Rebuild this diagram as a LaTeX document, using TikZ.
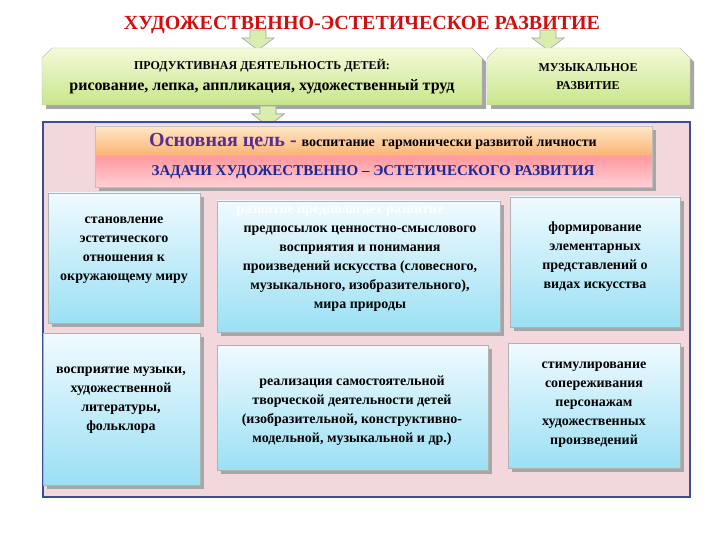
\documentclass[tikz,border=0pt]{standalone}
\usepackage{fontspec}
\setmainfont{Liberation Serif}
\usetikzlibrary{shadows}
\definecolor{tred}{HTML}{D01010}
\definecolor{gtop}{HTML}{F4FAD8}
\definecolor{gbot}{HTML}{C8E68C}
\definecolor{ctop}{HTML}{F0FAFF}
\definecolor{cbot}{HTML}{9BE0F4}
\definecolor{panel}{HTML}{F2D8DC}
\definecolor{pborder}{HTML}{3A4F8F}
\definecolor{otop}{HTML}{FFE8C8}
\definecolor{obot}{HTML}{FBB070}
\definecolor{rtop}{HTML}{FF9AA0}
\definecolor{rbot}{HTML}{FFD0D4}
\definecolor{violet}{HTML}{5A2D91}
\definecolor{navy}{HTML}{1A2A9A}
\tikzset{
 x=1pt,y=-1pt,
 shadowed/.style={drop shadow={shadow xshift=4pt,shadow yshift=-4pt,fill=gray!70,opacity=1}},
 cbox/.style={draw=gray!60,shadowed,top color=ctop,bottom color=cbot},
 gbox/.style={draw=gray!50,shadowed,top color=gtop,bottom color=gbot},
 btxt/.style={font=\bfseries\fontsize{14}{19}\selectfont,align=center,text=black},
 arr/.style={draw=gray!70,fill=gbot!70!white,line width=0.6pt}
}
\begin{document}
\begin{tikzpicture}
\useasboundingbox (0,0) rectangle (720,540);
\fill[white] (0,0) rectangle (720,540);
% arrows
\foreach \cx/\ty in {258/30,548/30,268/106}{
 \path[arr] (\cx-8,\ty) -- (\cx+8,\ty) -- (\cx+8,\ty+8) -- (\cx+16,\ty+8) -- (\cx,\ty+20) -- (\cx-16,\ty+8) -- (\cx-8,\ty+8) -- cycle;}
\node[text=tred,font=\bfseries\fontsize{20}{22}\selectfont] (title) at (362,25) {ХУДОЖЕСТВЕННО-ЭСТЕТИЧЕСКОЕ РАЗВИТИЕ};
% green boxes
\path[gbox] (42,58) -- (52,48) -- (472,48) -- (482,58) -- (482,105) -- (42,105) -- cycle;
\node[btxt,font=\bfseries\fontsize{12}{21}\selectfont] (prod) at (262,77) {ПРОДУКТИВНАЯ ДЕЯТЕЛЬНОСТЬ ДЕТЕЙ:\\ \fontsize{16}{21}\selectfont рисование, лепка, аппликация, художественный труд};
\path[gbox] (487,58) -- (497,48) -- (680,48) -- (690,58) -- (690,105) -- (487,105) -- cycle;
\node[btxt,font=\bfseries\fontsize{12}{18}\selectfont] (mus) at (588,77) {МУЗЫКАЛЬНОЕ\\РАЗВИТИЕ};
\path[arr] (260,106) -- (276,106) -- (276,114) -- (284,114) -- (268,126) -- (252,114) -- (260,114) -- cycle;
% panel
\draw[pborder,line width=1.5pt,fill=panel] (43,122) rectangle (690,497);
\path[draw=gray!50,shadowed,top color=otop,bottom color=obot] (95,126) rectangle (652,157);
\node[font=\bfseries\fontsize{20}{22}\selectfont,text=violet] (goal) at (373,142) {Основная цель - \fontsize{14}{15}\selectfont\color{black}воспитание \ гармонически развитой личности};
\path[draw=gray!50,shadowed,top color=rtop,bottom color=rbot] (95,157) rectangle (652,187);
\node[font=\bfseries\fontsize{15}{16}\selectfont,text=navy] (tasks) at (373,172) {ЗАДАЧИ ХУДОЖЕСТВЕННО – ЭСТЕТИЧЕСКОГО РАЗВИТИЯ};
% cyan boxes
\path[cbox] (48,193) rectangle (200,323);
\node[btxt] (b1) at (124,250) {становление\\эстетического\\отношения к\\окружающему миру};
\path[cbox] (217,201) rectangle (500,332);
\node[btxt,text=white] (b2h) at (340,212) {развитие предполагает развитие};
\node[btxt] (b2) at (360,269) {предпосылок ценностно-смыслового\\восприятия и понимания\\произведений искусства (словесного,\\музыкального, изобразительного),\\мира природы};
\path[cbox] (510,197) rectangle (680,327);
\node[btxt] (b3) at (595,257) {формирование\\элементарных\\представлений о\\видах искусства};
\path[cbox] (43,333) rectangle (200,485);
\node[btxt] (b4) at (121,400) {восприятие музыки,\\художественной\\литературы,\\фольклора};
\path[cbox] (217,345) rectangle (488,470);
\node[btxt] (b5) at (352,411) {реализация самостоятельной\\творческой деятельности детей\\(изобразительной, конструктивно-\\модельной, музыкальной и др.)};
\path[cbox] (508,343) rectangle (680,468);
\node[btxt] (b6) at (594,405) {стимулирование\\сопереживания\\персонажам\\художественных\\произведений};
\end{tikzpicture}
\end{document}
